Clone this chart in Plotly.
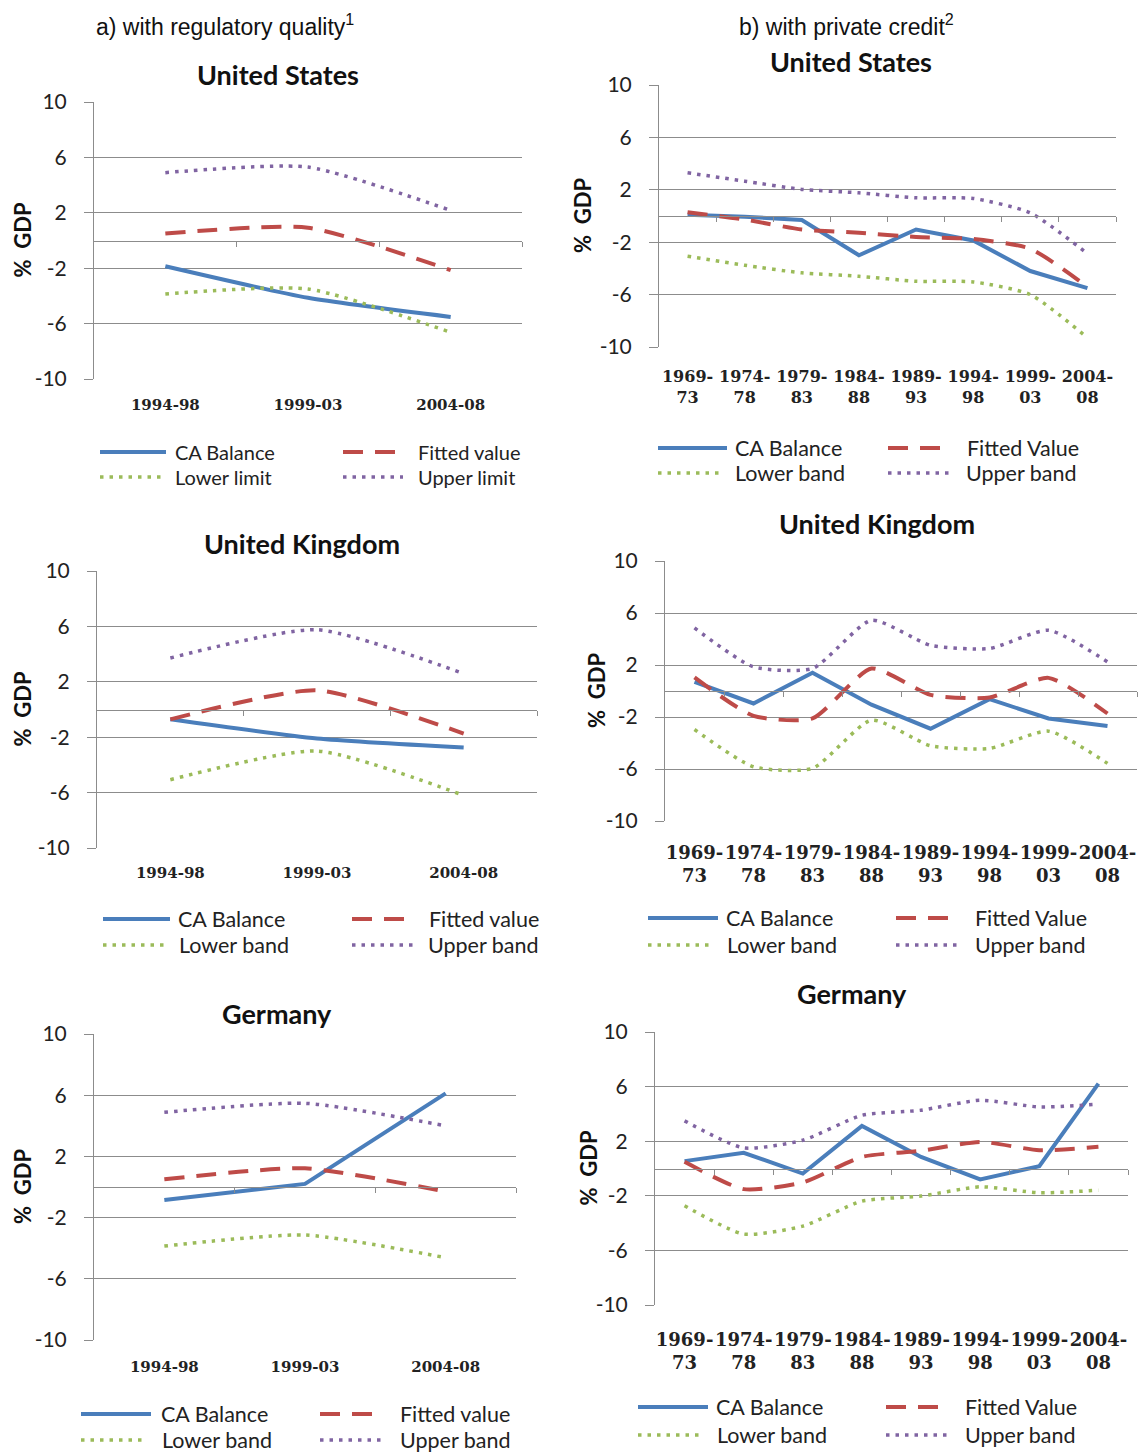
import plotly.graph_objects as go

W, H = 1140, 1453

# ---- categories ----
periods_a = ["1994-98", "1999-03", "2004-08"]
periods_b = ["1969-<br>73", "1974-<br>78", "1979-<br>83", "1984-<br>88",
             "1989-<br>93", "1994-<br>98", "1999-<br>03", "2004-<br>08"]

# ---- a) with regulatory quality ----
us_a_ca = [-1.86, -4.14, -5.52]
us_a_fit = [0.5, 0.92, -2.14]
us_a_low = [-3.86, -3.5, -6.63]
us_a_up = [4.9, 5.3, 2.17]

uk_a_ca = [-0.71, -2.1, -2.75]
uk_a_fit = [-0.71, 1.38, -1.74]
uk_a_low = [-5.07, -3.0, -6.2]
uk_a_up = [3.72, 5.76, 2.59]

de_a_ca = [-0.85, 0.2, 6.12]
de_a_fit = [0.5, 1.22, -0.3]
de_a_low = [-3.86, -3.14, -4.62]
de_a_up = [4.88, 5.47, 4.0]

# ---- b) with private credit ----
us_b_ca = [0.09, -0.06, -0.3, -3.0, -1.03, -1.87, -4.2, -5.5]
us_b_fit = [0.29, -0.27, -1.03, -1.28, -1.6, -1.75, -2.5, -5.4]
us_b_low = [-3.07, -3.76, -4.34, -4.6, -4.98, -5.03, -6.0, -9.3]
us_b_up = [3.3, 2.66, 2.03, 1.77, 1.39, 1.34, 0.24, -2.87]

uk_b_ca = [0.7, -0.96, 1.4, -1.05, -2.9, -0.63, -2.11, -2.7]
uk_b_fit = [1.04, -1.91, -2.11, 1.73, -0.3, -0.5, 1.01, -1.73]
uk_b_low = [-2.96, -5.83, -5.95, -2.24, -4.21, -4.42, -3.09, -5.57]
uk_b_up = [4.85, 1.86, 1.73, 5.44, 3.52, 3.27, 4.67, 2.24]

de_b_ca = [0.54, 1.15, -0.37, 3.12, 0.85, -0.8, 0.17, 6.22]
de_b_fit = [0.49, -1.51, -1.02, 0.85, 1.3, 1.95, 1.34, 1.59]
de_b_low = [-2.73, -4.8, -4.22, -2.39, -2.02, -1.34, -1.78, -1.59]
de_b_up = [3.49, 1.51, 2.07, 3.9, 4.27, 5.0, 4.51, 4.71]

y_ticks = [-10, -6, -2, 2, 6, 10]
y_ticktext = ["-10", "-6", "-2", "2", "6", "10"]

# ---- styling ----
BLUE, RED, GREEN, PURPLE = "#4A7EBB", "#BE4B48", "#9BBB59", "#8064A2"
GRID = "#8C8C8C"
SANS = "Lato, 'Open Sans', sans-serif"
SERIF = "'DejaVu Serif', serif"
HEAD = "'Liberation Sans', Arial, sans-serif"
DASH = "20px,12px"
DOT = "3.5px,6px"


def fx(px):
    return px / W


def fy(py):
    return 1 - py / H


panels = [
    dict(title="United States", cats=periods_a, xs=(94, 522), ys=(102, 379),
         title_pos=(278, 74), ylab_x=22, tick_size=15, tick_pad=15,
         series=[us_a_ca, us_a_fit, us_a_low, us_a_up], ca_shape="spline",
         names=["CA Balance", "Fitted value", "Lower limit", "Upper limit"],
         leg=dict(rows=(452, 477), c1=(100, 166, 173), c2=(343, 396, 416),
                  r2c1=(100, 162, 173), r2c2=(343, 403, 416), size=20)),
    dict(title="United States", cats=periods_b, xs=(659, 1116), ys=(85, 347),
         title_pos=(851, 62), ylab_x=583, tick_size=16, tick_pad=18,
         series=[us_b_ca, us_b_fit, us_b_low, us_b_up], ca_shape="linear",
         names=["CA Balance", "Fitted Value", "Lower band", "Upper band"],
         leg=dict(rows=(448, 473), c1=(658, 727, 733), c2=(888, 940, 965),
                  r2c1=(658, 720, 733), r2c2=(888, 951, 964), size=21.5)),
    dict(title="United Kingdom", cats=periods_a, xs=(97, 537), ys=(571, 848),
         title_pos=(302, 543), ylab_x=22, tick_size=15, tick_pad=14,
         series=[uk_a_ca, uk_a_fit, uk_a_low, uk_a_up], ca_shape="spline",
         names=["CA Balance", "Fitted value", "Lower band", "Upper band"],
         leg=dict(rows=(919, 945), c1=(103, 170, 176), c2=(352, 405, 427),
                  r2c1=(103, 165, 177), r2c2=(352, 415, 426), size=21.5)),
    dict(title="United Kingdom", cats=periods_b, xs=(665, 1137), ys=(561, 821),
         title_pos=(877, 523), ylab_x=596, tick_size=18, tick_pad=19,
         series=[uk_b_ca, uk_b_fit, uk_b_low, uk_b_up], ca_shape="linear",
         names=["CA Balance", "Fitted Value", "Lower band", "Upper band"],
         leg=dict(rows=(918, 945), c1=(648, 718, 724), c2=(896, 951, 973),
                  r2c1=(648, 712, 725), r2c2=(896, 962, 973), size=21.5)),
    dict(title="Germany", cats=periods_a, xs=(94, 516), ys=(1034, 1340),
         title_pos=(277, 1013), ylab_x=22, tick_size=15, tick_pad=16,
         series=[de_a_ca, de_a_fit, de_a_low, de_a_up], ca_shape="linear",
         names=["CA Balance", "Fitted value", "Lower band", "Upper band"],
         leg=dict(rows=(1414, 1440), c1=(81, 151, 159), c2=(320, 376, 398),
                  r2c1=(81, 146, 160), r2c2=(320, 386, 398), size=21.5)),
    dict(title="Germany", cats=periods_b, xs=(655, 1128), ys=(1032, 1305),
         title_pos=(852, 993), ylab_x=588, tick_size=18, tick_pad=22,
         series=[de_b_ca, de_b_fit, de_b_low, de_b_up], ca_shape="linear",
         names=["CA Balance", "Fitted Value", "Lower band", "Upper band"],
         leg=dict(rows=(1407, 1435), c1=(638, 708, 714), c2=(886, 940, 963),
                  r2c1=(638, 703, 715), r2c2=(886, 951, 963), size=21.5)),
]

styles = [
    dict(color=BLUE, width=4, dash="solid"),
    dict(color=RED, width=4, dash=DASH),
    dict(color=GREEN, width=3.5, dash=DOT),
    dict(color=PURPLE, width=3.5, dash=DOT),
]

fig = go.Figure()
layout = dict(width=W, height=H,
              margin=dict(l=0, r=0, t=0, b=0, pad=0, autoexpand=False),
              paper_bgcolor="white", plot_bgcolor="white", showlegend=False)
shapes, annotations = [], []

n_pan = len(panels)
for i, p in enumerate(panels, start=1):
    n = len(p["cats"])
    xs = list(range(n))
    sfx = "" if i == 1 else str(i)
    xid, yid = "x" + sfx, "y" + sfx
    zid = "x" + str(n_pan + i)

    for k, (vals, st, nm) in enumerate(zip(p["series"], styles, p["names"])):
        shape = p["ca_shape"] if k == 0 else "spline"
        fig.add_trace(go.Scatter(
            x=xs, y=vals, name=nm, mode="lines", xaxis=xid, yaxis=yid,
            line=dict(color=st["color"], width=st["width"], dash=st["dash"],
                      shape=shape, smoothing=0.6),
            hoverinfo="name+y"))
    # category axis crossing at zero
    fig.add_trace(go.Scatter(x=[None], y=[None], xaxis=zid, yaxis=yid,
                             showlegend=False, hoverinfo="skip"))

    xd = [fx(p["xs"][0]), fx(p["xs"][1])]
    yd = [fy(p["ys"][1]), fy(p["ys"][0])]
    layout["xaxis" + sfx] = dict(
        domain=xd, anchor=yid, range=[-0.5, n - 0.5], tickvals=xs,
        ticktext=p["cats"], showgrid=False, zeroline=False, showline=False,
        ticks="", ticklabelstandoff=p["tick_pad"], tickangle=0,
        tickfont=dict(family=SERIF, size=p["tick_size"], color="#222",
                      weight="bold"),
        fixedrange=True)
    layout["yaxis" + sfx] = dict(
        domain=yd, anchor=xid, range=[-10, 10], tickvals=y_ticks,
        ticktext=y_ticktext,
        showgrid=True, gridcolor=GRID, gridwidth=1, zeroline=False,
        showline=True, linecolor=GRID, linewidth=1, ticks="outside",
        ticklen=9, tickcolor=GRID, ticklabelstandoff=13,
        tickfont=dict(family=SANS, size=21, color="#222"), fixedrange=True)
    layout["xaxis" + str(n_pan + i)] = dict(
        overlaying=xid, anchor="free", position=(yd[0] + yd[1]) / 2,
        range=[-0.5, n - 0.5], tickvals=[b + 0.5 for b in xs],
        showticklabels=False, showgrid=False, zeroline=False, showline=True,
        linecolor=GRID, linewidth=1, ticks="outside", ticklen=5,
        tickcolor=GRID, fixedrange=True)

    # panel title
    annotations.append(dict(
        text="<b>%s</b>" % p["title"], xref="paper", yref="paper",
        x=fx(p["title_pos"][0]), y=fy(p["title_pos"][1]), xanchor="center",
        yanchor="middle", showarrow=False,
        font=dict(family=SANS, size=27, color="#111")))
    # y-axis title
    annotations.append(dict(
        text="<b>%  GDP</b>", xref="paper", yref="paper", x=fx(p["ylab_x"]),
        y=(yd[0] + yd[1]) / 2, xanchor="center", yanchor="middle",
        textangle=-90, showarrow=False,
        font=dict(family=SANS, size=22, color="#111")))

    # legend block
    lg = p["leg"]
    keys = [(lg["rows"][0], lg["c1"]), (lg["rows"][0], lg["c2"]),
            (lg["rows"][1], lg["r2c1"]), (lg["rows"][1], lg["r2c2"])]
    for (row, (x0, x1, xt)), st, nm in zip(keys, styles, p["names"]):
        shapes.append(dict(type="line", xref="paper", yref="paper",
                           x0=fx(x0), x1=fx(x1), y0=fy(row), y1=fy(row),
                           line=dict(color=st["color"], width=st["width"],
                                     dash=st["dash"])))
        annotations.append(dict(
            text=nm, xref="paper", yref="paper", x=fx(xt), y=fy(row),
            xanchor="left", yanchor="middle", showarrow=False,
            font=dict(family=SANS, size=lg["size"], color="#222")))

# column headers
annotations.append(dict(
    text="a) with regulatory quality<sup>1</sup>", xref="paper", yref="paper",
    x=fx(94), y=fy(25), xanchor="left", yanchor="middle", showarrow=False,
    font=dict(family=HEAD, size=23, color="#111")))
annotations.append(dict(
    text="b) with private credit<sup>2</sup>", xref="paper", yref="paper",
    x=fx(737), y=fy(25), xanchor="left", yanchor="middle", showarrow=False,
    font=dict(family=HEAD, size=23, color="#111")))

layout["shapes"] = shapes
layout["annotations"] = annotations
fig.update_layout(**layout)

fig.write_html("out.html", config=dict(displayModeBar=False))
